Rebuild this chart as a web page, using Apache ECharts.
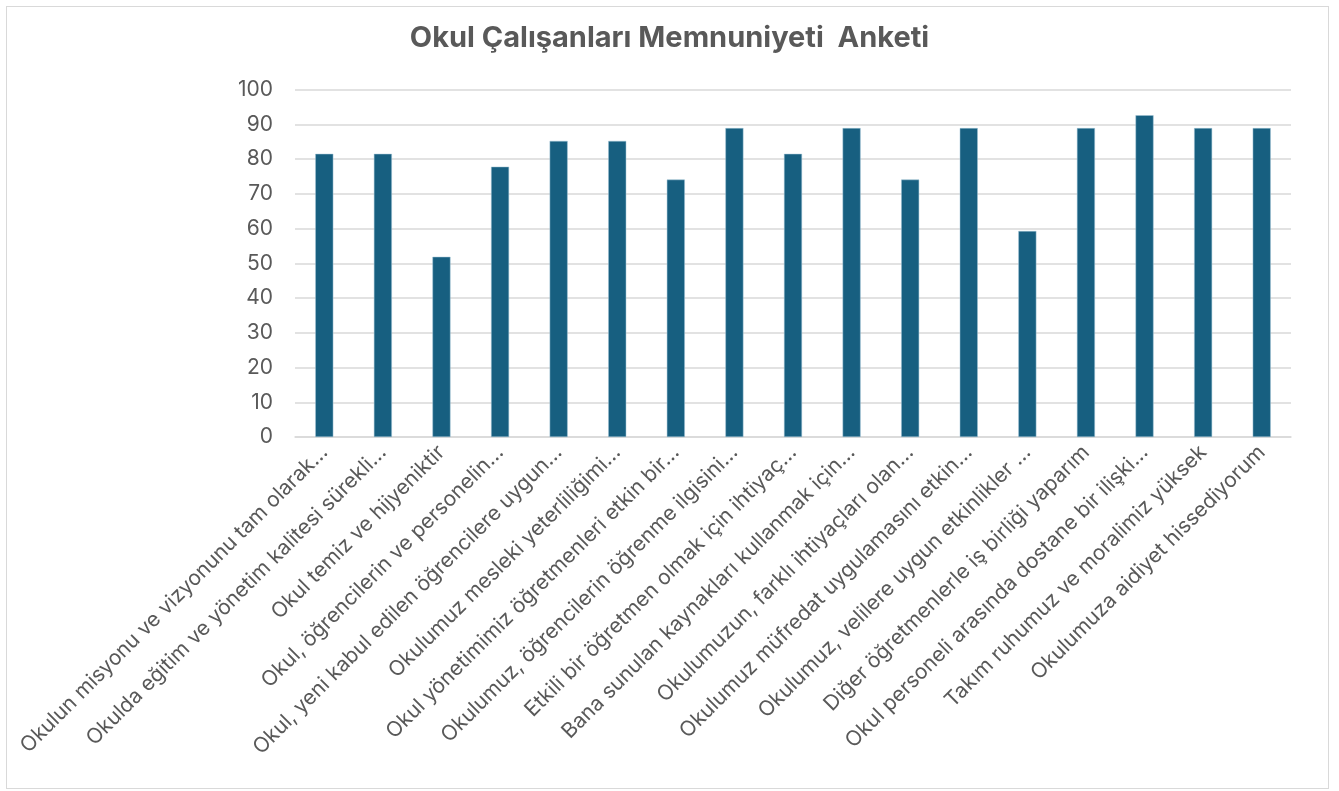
<!DOCTYPE html>
<html>
<head>
<meta charset="utf-8">
<script src="https://cdn.jsdelivr.net/npm/echarts@6/dist/echarts.min.js"></script>
<style>
  html, body { margin: 0; padding: 0; background: #fff; }
  #frame { position: absolute; left: 6px; top: 6px; width: 1321px; height: 781px; border: 1px solid #d9d9d9; }
  #chart { position: absolute; left: 0; top: 0; width: 1339px; height: 791px; }
</style>
</head>
<body>
<div id="frame"></div>
<div id="chart"></div>
<script>
const categories = [
  'Okulun misyonu ve vizyonunu tam olarak…',
  'Okulda eğitim ve yönetim kalitesi sürekli…',
  'Okul temiz ve hijyeniktir',
  'Okul, öğrencilerin ve personelin…',
  'Okul, yeni kabul edilen öğrencilere uygun…',
  'Okulumuz mesleki yeterliliğimi…',
  'Okul yönetimimiz öğretmenleri etkin bir…',
  'Okulumuz, öğrencilerin öğrenme ilgisini…',
  'Etkili bir öğretmen olmak için ihtiyaç…',
  'Bana sunulan kaynakları kullanmak için…',
  'Okulumuzun, farklı ihtiyaçları olan…',
  'Okulumuz müfredat uygulamasını etkin…',
  'Okulumuz, velilere uygun etkinlikler …',
  'Diğer öğretmenlerle iş birliği yaparım',
  'Okul personeli arasında dostane bir ilişki…',
  'Takım ruhumuz ve moralimiz yüksek',
  'Okulumuza aidiyet hissediyorum'
]
const scores = [81.48, 81.48, 51.85, 77.78, 85.19, 85.19, 74.07, 88.89, 81.48,
  88.89, 74.07, 88.89, 59.26, 88.89, 92.59, 88.89, 88.89]
const yTicks = { min: 0, max: 100, interval: 10 }

const chart = echarts.init(document.getElementById('chart'))
chart.setOption({
  title: {
    text: 'Okul Çalışanları Memnuniyeti  Anketi',
    left: 'center',
    top: 19,
    textStyle: { fontFamily: 'Inter', fontSize: 29, fontWeight: 'bold', color: '#595959' }
  },
  grid: { left: 295, right: 48, top: 89.5, bottom: 354, containLabel: false },
  xAxis: {
    type: 'category',
    data: categories,
    axisLine: { lineStyle: { color: '#d9d9d9', width: 1.5 } },
    axisTick: { show: false },
    axisLabel: {
      interval: 0,
      rotate: 45,
      margin: 12,
      fontFamily: 'Inter',
      fontSize: 21,
      color: '#595959'
    }
  },
  yAxis: {
    type: 'value',
    min: yTicks.min,
    max: yTicks.max,
    interval: yTicks.interval,
    axisLine: { show: false },
    axisTick: { show: false },
    splitLine: { lineStyle: { color: '#d9d9d9', width: 1.5 } },
    axisLabel: { fontFamily: 'Inter', fontSize: 21, color: '#595959', margin: 22 }
  },
  series: [{
    type: 'bar',
    data: scores,
    barWidth: 18,
    itemStyle: { color: '#175f80', borderColor: '#9ec3d4', borderWidth: 0.5 }
  }]
})
</script>
</body>
</html>
